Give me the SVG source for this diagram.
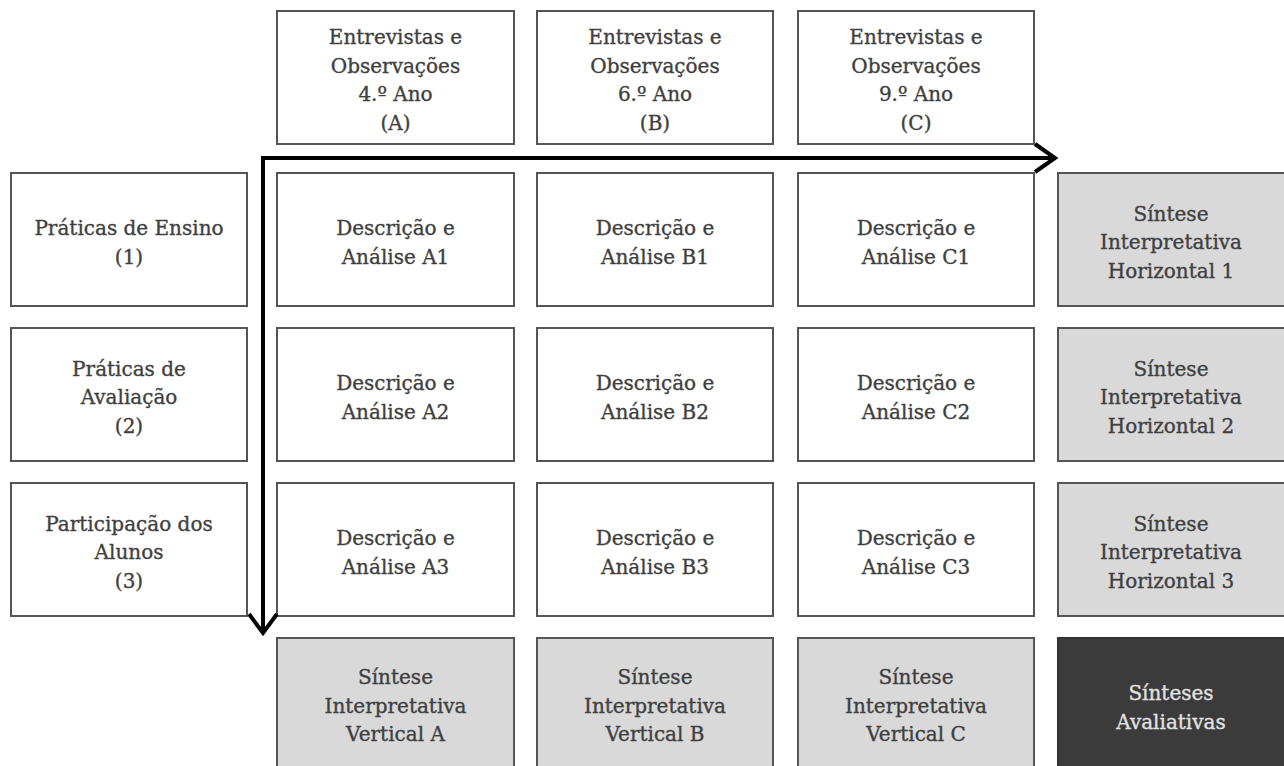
<svg xmlns="http://www.w3.org/2000/svg" width="1284" height="766" viewBox="0 0 1284 766">
<style>
.b{fill:#fff;stroke:#555;stroke-width:2}
.g{fill:#d9d9d9;stroke:#555;stroke-width:2}
.d{fill:#3b3b3b;stroke:#333;stroke-width:2}
text{font-family:"DejaVu Serif","Liberation Serif",serif;font-size:20px;fill:#3f3f3f;stroke:#3f3f3f;stroke-width:0.35;text-anchor:middle}
.w{fill:#e2e2e2;stroke:#e2e2e2}
.arr{fill:none;stroke:#000;stroke-width:4;stroke-linejoin:miter}
</style>
<rect width="1284" height="766" fill="#fff"/>
<g id="top-A"><rect class="b" x="277" y="11" width="237" height="133"/><text x="395.5" y="44">Entrevistas e</text><text x="395.5" y="72.5">Observações</text><text x="395.5" y="101">4.º Ano</text><text x="395.5" y="129.5">(A)</text></g>
<g id="top-B"><rect class="b" x="537" y="11" width="236" height="133"/><text x="655" y="44">Entrevistas e</text><text x="655" y="72.5">Observações</text><text x="655" y="101">6.º Ano</text><text x="655" y="129.5">(B)</text></g>
<g id="top-C"><rect class="b" x="798" y="11" width="236" height="133"/><text x="916" y="44">Entrevistas e</text><text x="916" y="72.5">Observações</text><text x="916" y="101">9.º Ano</text><text x="916" y="129.5">(C)</text></g>

<g id="row-1"><rect class="b" x="11" y="173" width="236" height="133"/><text x="129" y="235">Práticas de Ensino</text><text x="129" y="263.5">(1)</text></g>
<g id="row-2"><rect class="b" x="11" y="328" width="236" height="133"/><text x="129" y="375.5">Práticas de</text><text x="129" y="404">Avaliação</text><text x="129" y="432.5">(2)</text></g>
<g id="row-3"><rect class="b" x="11" y="483" width="236" height="133"/><text x="129" y="530.5">Participação dos</text><text x="129" y="559">Alunos</text><text x="129" y="587.5">(3)</text></g>

<g id="A1"><rect class="b" x="277" y="173" width="237" height="133"/><text x="395.5" y="235">Descrição e</text><text x="395.5" y="263.5">Análise A1</text></g>
<g id="B1"><rect class="b" x="537" y="173" width="236" height="133"/><text x="655" y="235">Descrição e</text><text x="655" y="263.5">Análise B1</text></g>
<g id="C1"><rect class="b" x="798" y="173" width="236" height="133"/><text x="916" y="235">Descrição e</text><text x="916" y="263.5">Análise C1</text></g>
<g id="H1"><rect class="g" x="1058" y="173" width="240" height="133"/><text x="1171" y="220.5">Síntese</text><text x="1171" y="249">Interpretativa</text><text x="1171" y="277.5">Horizontal 1</text></g>

<g id="A2"><rect class="b" x="277" y="328" width="237" height="133"/><text x="395.5" y="390">Descrição e</text><text x="395.5" y="418.5">Análise A2</text></g>
<g id="B2"><rect class="b" x="537" y="328" width="236" height="133"/><text x="655" y="390">Descrição e</text><text x="655" y="418.5">Análise B2</text></g>
<g id="C2"><rect class="b" x="798" y="328" width="236" height="133"/><text x="916" y="390">Descrição e</text><text x="916" y="418.5">Análise C2</text></g>
<g id="H2"><rect class="g" x="1058" y="328" width="240" height="133"/><text x="1171" y="375.5">Síntese</text><text x="1171" y="404">Interpretativa</text><text x="1171" y="432.5">Horizontal 2</text></g>

<g id="A3"><rect class="b" x="277" y="483" width="237" height="133"/><text x="395.5" y="545">Descrição e</text><text x="395.5" y="573.5">Análise A3</text></g>
<g id="B3"><rect class="b" x="537" y="483" width="236" height="133"/><text x="655" y="545">Descrição e</text><text x="655" y="573.5">Análise B3</text></g>
<g id="C3"><rect class="b" x="798" y="483" width="236" height="133"/><text x="916" y="545">Descrição e</text><text x="916" y="573.5">Análise C3</text></g>
<g id="H3"><rect class="g" x="1058" y="483" width="240" height="133"/><text x="1171" y="530.5">Síntese</text><text x="1171" y="559">Interpretativa</text><text x="1171" y="587.5">Horizontal 3</text></g>

<g id="VA"><rect class="g" x="277" y="638" width="237" height="140"/><text x="395.5" y="684">Síntese</text><text x="395.5" y="712.5">Interpretativa</text><text x="395.5" y="741">Vertical A</text></g>
<g id="VB"><rect class="g" x="537" y="638" width="236" height="140"/><text x="655" y="684">Síntese</text><text x="655" y="712.5">Interpretativa</text><text x="655" y="741">Vertical B</text></g>
<g id="VC"><rect class="g" x="798" y="638" width="236" height="140"/><text x="916" y="684">Síntese</text><text x="916" y="712.5">Interpretativa</text><text x="916" y="741">Vertical C</text></g>
<g id="SA"><rect class="d" x="1058" y="638" width="240" height="140"/><text class="w" x="1171" y="700">Sínteses</text><text class="w" x="1171" y="728.5">Avaliativas</text></g>

<g id="connectors">
<polyline class="arr" points="1054,158 263,158 263,632"/>
<polyline class="arr" points="1035,144 1055,158 1035,172"/>
<polyline class="arr" points="249,614 263,633 277,614"/>
</g>
</svg>
